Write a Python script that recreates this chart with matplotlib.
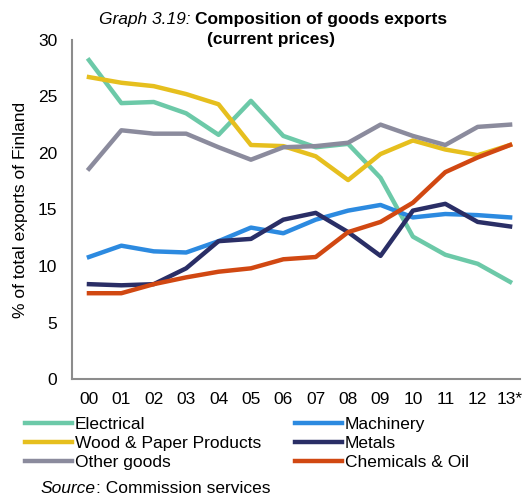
import matplotlib.pyplot as plt

plt.rcParams['font.family'] = ['Liberation Sans', 'DejaVu Sans']

years = ["00", "01", "02", "03", "04", "05", "06", "07", "08", "09", "10", "11", "12", "13*"]

electrical = [28.2, 24.4, 24.5, 23.5, 21.6, 24.6, 21.5, 20.5, 20.8, 17.8, 12.6, 11.0, 10.2, 8.6]
wood_paper = [26.7, 26.2, 25.9, 25.2, 24.3, 20.7, 20.6, 19.7, 17.6, 19.9, 21.1, 20.3, 19.8, 20.7]
other_goods = [18.6, 22.0, 21.7, 21.7, 20.5, 19.4, 20.5, 20.6, 20.9, 22.5, 21.5, 20.7, 22.3, 22.5]
machinery = [10.8, 11.8, 11.3, 11.2, 12.2, 13.4, 12.9, 14.1, 14.9, 15.4, 14.3, 14.6, 14.5, 14.3]
metals = [8.4, 8.3, 8.4, 9.8, 12.2, 12.4, 14.1, 14.7, 13.0, 10.9, 14.9, 15.5, 13.9, 13.5]
chemicals = [7.6, 7.6, 8.4, 9.0, 9.5, 9.8, 10.6, 10.8, 13.0, 13.9, 15.6, 18.3, 19.6, 20.7]

series = [
    ("Electrical", electrical, "#6CC9A8"),
    ("Wood & Paper Products", wood_paper, "#E6BF1E"),
    ("Other goods", other_goods, "#8B8B9D"),
    ("Machinery", machinery, "#2C8AE0"),
    ("Metals", metals, "#2A2E66"),
    ("Chemicals & Oil", chemicals, "#D14812"),
]

FS = 12.5

fig = plt.figure(figsize=(5.24, 4.97), dpi=100)
ax = fig.add_axes([0.137, 0.237, 0.855, 0.683])

x = list(range(len(years)))
for name, vals, col in series:
    ax.plot(x, vals, color=col, lw=3.2, label=name)

ax.set_xlim(-0.53, 13.3)
ax.set_ylim(0, 30)
ax.set_yticks(range(0, 31, 5))
ax.set_xticks(x)
ax.set_xticklabels(years)
ax.tick_params(axis='both', length=0, labelsize=FS)
ax.tick_params(axis='x', pad=9)
ax.tick_params(axis='y', pad=10.5)

for side in ['top', 'right']:
    ax.spines[side].set_visible(False)
for side in ['left', 'bottom']:
    ax.spines[side].set_color('#8C8C8C')
    ax.spines[side].set_linewidth(1.5)

ax.set_ylabel("% of total exports of Finland", fontsize=FS, labelpad=7)

# title: italic part + bold part
fig.text(0.3645, 0.96, "Graph 3.19:", fontsize=FS, style='italic', ha='right', va='center')
fig.text(0.372, 0.96, "Composition of goods exports", fontsize=FS, fontweight='bold', ha='left', va='center')
fig.text(0.517, 0.92, "(current prices)", fontsize=FS, fontweight='bold', ha='center', va='center')

fig.legend(loc='upper left', bbox_to_anchor=(0.048, 0.162), ncol=2, frameon=False,
           fontsize=FS, handlelength=2.7, handletextpad=0.17, labelspacing=0.24,
           columnspacing=1.95, borderaxespad=0, borderpad=0)

# source line: italic word followed by plain text
src = fig.text(0.078, 0.018, "Source", fontsize=FS, style='italic', ha='left', va='center')
fig.canvas.draw()
bb = src.get_window_extent().transformed(fig.transFigure.inverted())
fig.text(bb.x1, 0.018, ": Commission services", fontsize=FS, ha='left', va='center')

fig.savefig("out.png", dpi=100)
